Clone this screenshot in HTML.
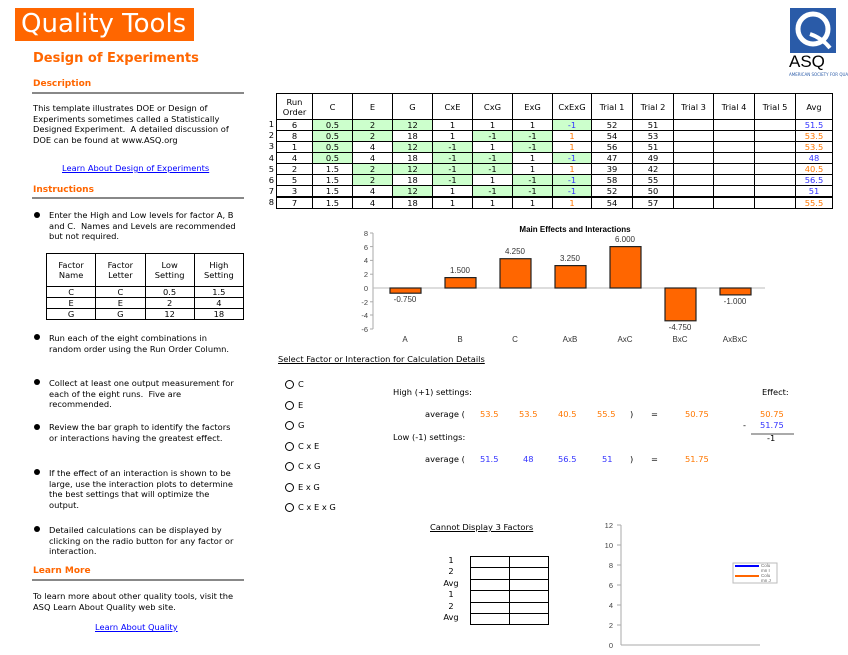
<!DOCTYPE html>
<html><head><meta charset="utf-8"><style>
body{margin:0;width:848px;height:655px;background:#fff;position:relative;overflow:hidden;font-family:"DejaVu Sans","Liberation Sans",sans-serif;font-size:8.3px;color:#000}
.a{position:absolute;white-space:nowrap}
.h{color:#f60;font-size:9px;font-weight:bold}
.hl{position:absolute;left:32px;width:212px;height:2px;background:#888}
.p{position:absolute;line-height:10.5px;white-space:nowrap}
.bul{position:absolute;left:34px;width:6px;height:6px;border-radius:50%;background:#000}
a{color:#00f;text-decoration:underline}
table{border-collapse:collapse;table-layout:fixed;position:absolute}
td{border:1px solid #000;text-align:center;padding:0;font-size:8.3px;overflow:hidden}
.g{background:#ccffcc}.b{color:#33f}.o{color:#f70}
.rad{position:absolute;left:285px;width:7px;height:7px;border:1.3px solid #000;border-radius:50%}
</style></head><body>
<div class="a" style="left:15px;top:8px;width:179px;height:33px;background:#f60;color:#fff;font-size:26px;line-height:33px;padding-left:6px;box-sizing:border-box">Quality Tools</div>
<div class="a" style="left:33px;top:51px;color:#f60;font-size:13px;font-weight:bold">Design of Experiments</div>
<div class="a h" style="left:33px;top:79px">Description</div><div class="hl" style="top:92px"></div>
<div class="p" style="left:33px;top:103px">This template illustrates DOE or Design of<br>Experiments sometimes called a Statistically<br>Designed Experiment.&nbsp; A detailed discussion of<br>DOE can be found at www.ASQ.org</div>
<div class="a" style="left:62px;top:163px"><a>Learn About Design of Experiments</a></div>
<div class="a h" style="left:33px;top:185px">Instructions</div><div class="hl" style="top:197px"></div>
<div class="bul" style="top:212px"></div>
<div class="p" style="left:49px;top:210px">Enter the High and Low levels for factor A, B<br>and C.&nbsp; Names and Levels are recommended<br>but not required.</div>
<table style="left:46px;top:253px;width:198px">
<tr style="height:33px"><td>Factor<br>Name</td><td>Factor<br>Letter</td><td>Low<br>Setting</td><td>High<br>Setting</td></tr>
<tr style="height:11px"><td>C</td><td>C</td><td>0.5</td><td>1.5</td></tr>
<tr style="height:11px"><td>E</td><td>E</td><td>2</td><td>4</td></tr>
<tr style="height:11px"><td>G</td><td>G</td><td>12</td><td>18</td></tr></table>
<div class="bul" style="top:334px"></div>
<div class="p" style="left:49px;top:333px">Run each of the eight combinations in<br>random order using the Run Order Column.</div>
<div class="bul" style="top:379px"></div>
<div class="p" style="left:49px;top:378px">Collect at least one output measurement for<br>each of the eight runs.&nbsp; Five are<br>recommended.</div>
<div class="bul" style="top:424px"></div>
<div class="p" style="left:49px;top:422px">Review the bar graph to identify the factors<br>or interactions having the greatest effect.</div>
<div class="bul" style="top:469px"></div>
<div class="p" style="left:49px;top:468px">If the effect of an interaction is shown to be<br>large, use the interaction plots to determine<br>the best settings that will optimize the<br>output.</div>
<div class="bul" style="top:526px"></div>
<div class="p" style="left:49px;top:525px">Detailed calculations can be displayed by<br>clicking on the radio button for any factor or<br>interaction.</div>
<div class="a h" style="left:33px;top:566px">Learn More</div><div class="hl" style="top:579px"></div>
<div class="p" style="left:33px;top:591px">To learn more about other quality tools, visit the<br>ASQ Learn About Quality web site.</div>
<div class="a" style="left:95px;top:622px"><a>Learn About Quality</a></div>

<div class="a" style="left:790px;top:8px;width:46px;height:45px;background:#2a5ba8"></div>
<svg class="a" style="left:790px;top:8px" width="46" height="45"><circle cx="23" cy="21" r="15" fill="none" stroke="#fff" stroke-width="5"/><path d="M20 26 Q32 30 40 40" stroke="#fff" stroke-width="4" fill="none"/></svg>
<div class="a" style="left:789px;top:52px;font-size:17px;font-family:'Liberation Sans',sans-serif">ASQ</div>
<div class="a" style="left:789px;top:72px;font-size:4px;color:#2a5ba8">AMERICAN SOCIETY FOR QUALITY</div>

<div class="a" style="left:264px;top:119px;font-size:8.3px;line-height:11.2px;text-align:right;width:10px">1<br>2<br>3<br>4<br>5<br>6<br>7<br>8</div>
<table style="left:276px;top:93px;width:556px">
<colgroup><col style="width:36px"><col style="width:40px"><col style="width:40px"><col style="width:40px"><col style="width:40px"><col style="width:40px"><col style="width:40px"><col style="width:39px"><col style="width:41px"><col style="width:41px"><col style="width:40px"><col style="width:41px"><col style="width:41px"><col style="width:37px"></colgroup>
<tr style="height:26px"><td>Run<br>Order</td><td>C</td><td>E</td><td>G</td><td>CxE</td><td>CxG</td><td>ExG</td><td>CxExG</td><td>Trial 1</td><td>Trial 2</td><td>Trial 3</td><td>Trial 4</td><td>Trial 5</td><td>Avg</td></tr>
<tr style="height:11px"><td>6</td><td class="g">0.5</td><td class="g">2</td><td class="g">12</td><td>1</td><td>1</td><td>1</td><td class="g b">-1</td><td>52</td><td>51</td><td></td><td></td><td></td><td class="b">51.5</td></tr>
<tr style="height:11px"><td>8</td><td class="g">0.5</td><td class="g">2</td><td>18</td><td>1</td><td class="g">-1</td><td class="g">-1</td><td class="o">1</td><td>54</td><td>53</td><td></td><td></td><td></td><td class="o">53.5</td></tr>
<tr style="height:11px"><td>1</td><td class="g">0.5</td><td>4</td><td class="g">12</td><td class="g">-1</td><td>1</td><td class="g">-1</td><td class="o">1</td><td>56</td><td>51</td><td></td><td></td><td></td><td class="o">53.5</td></tr>
<tr style="height:11px"><td>4</td><td class="g">0.5</td><td>4</td><td>18</td><td class="g">-1</td><td class="g">-1</td><td>1</td><td class="g b">-1</td><td>47</td><td>49</td><td></td><td></td><td></td><td class="b">48</td></tr>
<tr style="height:11px"><td>2</td><td>1.5</td><td class="g">2</td><td class="g">12</td><td class="g">-1</td><td class="g">-1</td><td>1</td><td class="o">1</td><td>39</td><td>42</td><td></td><td></td><td></td><td class="o">40.5</td></tr>
<tr style="height:11px"><td>5</td><td>1.5</td><td class="g">2</td><td>18</td><td class="g">-1</td><td>1</td><td class="g">-1</td><td class="g b">-1</td><td>58</td><td>55</td><td></td><td></td><td></td><td class="b">56.5</td></tr>
<tr style="height:11px"><td>3</td><td>1.5</td><td>4</td><td class="g">12</td><td>1</td><td class="g">-1</td><td class="g">-1</td><td class="g b">-1</td><td>52</td><td>50</td><td></td><td></td><td></td><td class="b">51</td></tr>
<tr style="height:11px;border-top:2px solid #000"><td>7</td><td>1.5</td><td>4</td><td>18</td><td>1</td><td>1</td><td>1</td><td class="o">1</td><td>54</td><td>57</td><td></td><td></td><td></td><td class="o">55.5</td></tr>
</table>

<svg class="a" style="left:0;top:0" width="848" height="655" font-family="Liberation Sans,sans-serif" font-size="8">
<text x="575" y="232" text-anchor="middle" font-weight="bold" font-size="8">Main Effects and Interactions</text>
<g fill="#444" text-anchor="end" font-size="7.5">
<text x="368" y="236">8</text><text x="368" y="250">6</text><text x="368" y="263">4</text><text x="368" y="277">2</text><text x="368" y="291">0</text><text x="368" y="305">-2</text><text x="368" y="318">-4</text><text x="368" y="332">-6</text></g>
<line x1="373" y1="233" x2="373" y2="329" stroke="#aaa"/>
<g stroke="#aaa"><line x1="370" y1="233" x2="373" y2="233"/><line x1="370" y1="246.6" x2="373" y2="246.6"/><line x1="370" y1="260.4" x2="373" y2="260.4"/><line x1="370" y1="274.2" x2="373" y2="274.2"/><line x1="370" y1="315" x2="373" y2="315"/><line x1="370" y1="301.8" x2="373" y2="301.8"/><line x1="370" y1="329" x2="373" y2="329"/></g>
<line x1="373" y1="288" x2="765" y2="288" stroke="#bbb"/>
<g fill="#f60" stroke="#222" stroke-width="1.2">
<rect x="390" y="288" width="31" height="5.2"/><rect x="445" y="277.6" width="31" height="10.4"/><rect x="500" y="258.7" width="31" height="29.3"/><rect x="555" y="265.6" width="31" height="22.4"/><rect x="610" y="246.6" width="31" height="41.4"/><rect x="665" y="288" width="31" height="32.8"/><rect x="720" y="288" width="31" height="6.9"/></g>
<g fill="#333" text-anchor="middle" font-size="8">
<text x="405" y="302">-0.750</text><text x="460" y="273">1.500</text><text x="515" y="254">4.250</text><text x="570" y="261">3.250</text><text x="625" y="242">6.000</text><text x="680" y="330">-4.750</text><text x="735" y="304">-1.000</text>
<text x="405" y="342">A</text><text x="460" y="342">B</text><text x="515" y="342">C</text><text x="570" y="342">AxB</text><text x="625" y="342">AxC</text><text x="680" y="342">BxC</text><text x="735" y="342">AxBxC</text></g>
<g fill="#444" text-anchor="end" font-size="7.5">
<text x="613" y="528">12</text><text x="613" y="548">10</text><text x="613" y="568">8</text><text x="613" y="588">6</text><text x="613" y="608">4</text><text x="613" y="628">2</text><text x="613" y="648">0</text></g>
<line x1="621" y1="525" x2="621" y2="645" stroke="#aaa"/><line x1="621" y1="645" x2="760" y2="645" stroke="#aaa"/>
<g stroke="#aaa"><line x1="617" y1="525" x2="621" y2="525"/><line x1="617" y1="545" x2="621" y2="545"/><line x1="617" y1="565" x2="621" y2="565"/><line x1="617" y1="585" x2="621" y2="585"/><line x1="617" y1="605" x2="621" y2="605"/><line x1="617" y1="625" x2="621" y2="625"/></g>
<rect x="733" y="563" width="44" height="20" fill="#fff" stroke="#bbb"/>
<line x1="735" y1="566" x2="759" y2="566" stroke="#00f" stroke-width="2"/><line x1="735" y1="576" x2="759" y2="576" stroke="#f60" stroke-width="2"/>
<text x="761" y="567" font-size="4.5" fill="#666">Colu</text><text x="761" y="572" font-size="4.5" fill="#666">mn I</text><text x="761" y="577" font-size="4.5" fill="#666">Colu</text><text x="761" y="582" font-size="4.5" fill="#666">mn J</text>
<line x1="751" y1="434" x2="794" y2="434" stroke="#555"/>
</svg>

<div class="a" style="left:278px;top:354px;text-decoration:underline">Select Factor or Interaction for Calculation Details</div>
<div class="rad" style="top:380px"></div><div class="a" style="left:298px;top:379px">C</div>
<div class="rad" style="top:401px"></div><div class="a" style="left:298px;top:400px">E</div>
<div class="rad" style="top:421px"></div><div class="a" style="left:298px;top:420px">G</div>
<div class="rad" style="top:442px"></div><div class="a" style="left:298px;top:441px">C x E</div>
<div class="rad" style="top:462px"></div><div class="a" style="left:298px;top:461px">C x G</div>
<div class="rad" style="top:483px"></div><div class="a" style="left:298px;top:482px">E x G</div>
<div class="rad" style="top:503px"></div><div class="a" style="left:298px;top:502px">C x E x G</div>
<div class="a" style="left:393px;top:387px">High (+1) settings:</div>
<div class="a" style="left:762px;top:387px">Effect:</div>
<div class="a" style="left:425px;top:409px">average (</div>
<div class="a o" style="left:480px;top:409px">53.5</div><div class="a o" style="left:519px;top:409px">53.5</div><div class="a o" style="left:558px;top:409px">40.5</div><div class="a o" style="left:597px;top:409px">55.5</div>
<div class="a" style="left:630px;top:409px">)</div><div class="a" style="left:651px;top:409px">=</div><div class="a o" style="left:685px;top:409px">50.75</div>
<div class="a o" style="left:760px;top:409px">50.75</div>
<div class="a" style="left:743px;top:420px">-</div><div class="a b" style="left:760px;top:420px">51.75</div>
<div class="a" style="left:767px;top:433px">-1</div>
<div class="a" style="left:393px;top:432px">Low (-1) settings:</div>
<div class="a" style="left:425px;top:454px">average (</div>
<div class="a b" style="left:480px;top:454px">51.5</div><div class="a b" style="left:523px;top:454px">48</div><div class="a b" style="left:558px;top:454px">56.5</div><div class="a b" style="left:602px;top:454px">51</div>
<div class="a" style="left:630px;top:454px">)</div><div class="a" style="left:651px;top:454px">=</div><div class="a o" style="left:685px;top:454px">51.75</div>

<div class="a" style="left:430px;top:522px;text-decoration:underline">Cannot Display 3 Factors</div>
<div class="a" style="left:438px;top:555px;line-height:11.4px;text-align:center;width:26px">1<br>2<br>Avg<br>1<br>2<br>Avg</div>
<table style="left:470px;top:556px;width:79px">
<tr style="height:11.4px"><td></td><td></td></tr><tr style="height:11.4px"><td></td><td></td></tr><tr style="height:11.4px"><td></td><td></td></tr><tr style="height:11.4px"><td></td><td></td></tr><tr style="height:11.4px"><td></td><td></td></tr><tr style="height:11.4px"><td></td><td></td></tr></table>
</body></html>
